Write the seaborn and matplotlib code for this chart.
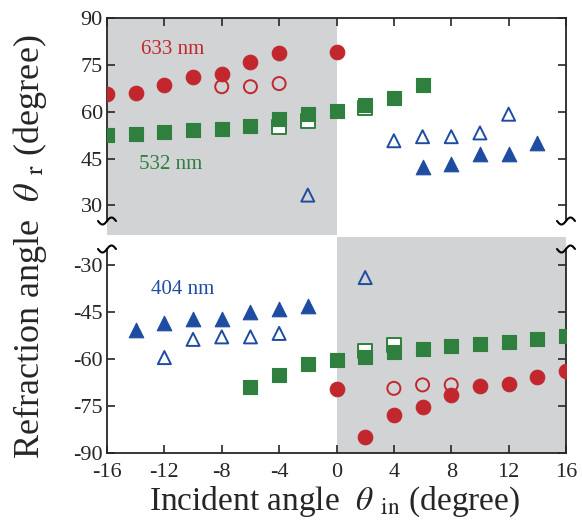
import numpy as np
import pandas as pd
import matplotlib
matplotlib.use("Agg")
import matplotlib.pyplot as plt
import seaborn as sns

# ---------------- data ----------------
# upper panel (positive refraction angles)
x633_fill_top = [-16, -14, -12, -10, -8, -6, -4, 0]
y633_fill_top = [65.6, 65.9, 68.4, 71.0, 72.2, 76.0, 78.8, 79.1]
x633_open_top = [-8, -6, -4]
y633_open_top = [68.0, 68.0, 69.0]
x532_fill_top = [-16, -14, -12, -10, -8, -6, -4, -2, 0, 2, 4, 6]
y532_fill_top = [52.5, 52.9, 53.6, 54.2, 54.4, 55.3, 57.6, 59.4, 60.3, 62.0, 64.5, 68.4]
x532_open_top = [-4, -2, 2]
y532_open_top = [55.1, 57.0, 61.1]
x404_fill_top = [6, 8, 10, 12, 14]
y404_fill_top = [42.3, 43.3, 46.5, 46.5, 50.0]
x404_open_top = [-2, 4, 6, 8, 10, 12]
y404_open_top = [33.3, 50.7, 52.0, 52.0, 53.2, 59.2]

# lower panel (negative refraction angles)
x633_fill_bot = [0, 2, 4, 6, 8, 10, 12, 14, 16]
y633_fill_bot = [-69.5, -85.0, -78.0, -75.4, -71.4, -68.7, -68.0, -65.9, -64.0]
x633_open_bot = [4, 6, 8]
y633_open_bot = [-69.4, -68.3, -68.3]
x532_fill_bot = [-6, -4, -2, 0, 2, 4, 6, 8, 10, 12, 14, 16]
y532_fill_bot = [-69.1, -65.0, -61.7, -60.4, -59.5, -57.9, -56.9, -55.9, -55.4, -54.5, -53.8, -52.7]
x532_open_bot = [2, 4]
y532_open_bot = [-57.6, -55.7]
x404_fill_bot = [-14, -12, -10, -8, -6, -4, -2]
y404_fill_bot = [-50.9, -48.5, -47.2, -47.2, -45.1, -44.0, -43.3]
x404_open_bot = [-12, -10, -8, -6, -4, 2]
y404_open_bot = [-59.6, -53.8, -53.0, -53.0, -51.9, -34.1]

xticks = [-16, -12, -8, -4, 0, 4, 8, 12, 16]
yticks_top = [30, 45, 60, 75, 90]
yticks_bot = [-90, -75, -60, -45, -30]
labels = ["633 nm", "532 nm", "404 nm"]

# ---------------- style ----------------
sns.set_style("ticks")
plt.rcParams['font.family'] = ['Liberation Serif', 'DejaVu Serif']
plt.rcParams['mathtext.fontset'] = 'stix'
plt.rcParams['axes.unicode_minus'] = False

RED = "#C1272D"
GREEN = "#2F7F3F"
BLUE = "#1E4CA0"
GRAY = "#D1D3D4"

W, H = 582, 524
fig = plt.figure(figsize=(W / 100, H / 100), dpi=100)
L, R = 107 / W, 566 / W
ax_top = fig.add_axes([L, 1 - 221 / H, R - L, (221 - 18) / H])
ax_bot = fig.add_axes([L, 1 - 453 / H, R - L, (453 - 249) / H])

MS = 110


def scat(ax, x, y, marker, color, filled, z=3, white=False):
    df = pd.DataFrame({"x": x, "y": y})
    if filled:
        sns.scatterplot(data=df, x="x", y="y", ax=ax, marker=marker, s=MS,
                        color=color, edgecolor=color, linewidth=0.8, zorder=z,
                        legend=False)
    else:
        fc = "white" if white else "none"
        sns.scatterplot(data=df, x="x", y="y", ax=ax, marker=marker, s=MS * 0.8,
                        facecolor=fc, edgecolor=color, linewidth=1.4, zorder=z,
                        legend=False)


# top panel
scat(ax_top, x532_open_top, y532_open_top, "s", GREEN, False, z=2, white=True)
scat(ax_top, x532_fill_top, y532_fill_top, "s", GREEN, True, z=3)
scat(ax_top, x633_fill_top, y633_fill_top, "o", RED, True)
scat(ax_top, x633_open_top, y633_open_top, "o", RED, False)
scat(ax_top, x404_fill_top, y404_fill_top, "^", BLUE, True)
scat(ax_top, x404_open_top, y404_open_top, "^", BLUE, False)

# bottom panel
scat(ax_bot, x532_open_bot, y532_open_bot, "s", GREEN, False, z=2, white=True)
scat(ax_bot, x532_fill_bot, y532_fill_bot, "s", GREEN, True, z=3)
scat(ax_bot, x633_fill_bot, y633_fill_bot, "o", RED, True)
scat(ax_bot, x633_open_bot, y633_open_bot, "o", RED, False)
scat(ax_bot, x404_fill_bot, y404_fill_bot, "^", BLUE, True)
scat(ax_bot, x404_open_bot, y404_open_bot, "^", BLUE, False)

# shaded regions
ax_top.axvspan(-16, 0, ymin=-14 / 203, ymax=1, color=GRAY, lw=0, zorder=0, clip_on=False)
ax_bot.axvspan(0, 16, ymin=0, ymax=1 + 12 / 204, color=GRAY, lw=0, zorder=0, clip_on=False)

for ax in (ax_top, ax_bot):
    ax.set_xlim(-16, 16)
    ax.set_xticks(xticks)
    ax.set_xlabel("")
    ax.set_ylabel("")
    ax.tick_params(direction="in", length=6, width=1.2, labelsize=16,
                   left=True, right=True, pad=3)
    for s in ax.spines.values():
        s.set_linewidth(1.3)
    ax.set_facecolor("none")

ax_top.set_ylim(25, 90)
ax_top.set_yticks(yticks_top)
ax_top.spines['bottom'].set_visible(False)
ax_top.tick_params(axis="x", bottom=False, top=True, labelbottom=False, labeltop=False)

ax_bot.set_ylim(-90, -25)
ax_bot.set_yticks(yticks_bot)
ax_bot.spines['top'].set_visible(False)
ax_bot.tick_params(axis="x", bottom=True, top=False, labelbottom=True, pad=7)

# break marks (small tilde) at spine ends
tt = np.linspace(-1, 1, 40)
ax_w = R - L
for ax, ypos, hpx in ((ax_top, 0.0, 203), (ax_bot, 1.0, 204)):
    dx = 9 / (ax_w * W)
    dy = 3.5 / hpx
    for xs in (0.0, 1.0):
        ax.plot(xs + tt * dx, ypos + dy * np.sin(np.pi * tt), color="black",
                lw=1.5, transform=ax.transAxes, clip_on=False, zorder=5)

# series labels
ax_top.text(-13.6, 78.5, labels[0], color=RED, fontsize=15)
ax_top.text(-13.8, 41.5, labels[1], color=GREEN, fontsize=15)
ax_bot.text(-12.9, -39.3, labels[2], color=BLUE, fontsize=15)

# axis labels
fig.text((L + R) / 2 - 0.003, 1 - 502 / H, r"Incident angle  $\theta$ $_{\rm in}$ (degree)",
         ha="center", va="center", fontsize=24)
fig.text(30 / W, 1 - 247 / H, r"Refraction angle  $\theta$ $_{\rm r}$ (degree)",
         ha="center", va="center", rotation=90, fontsize=26)

fig.savefig("out.png", dpi=100)
